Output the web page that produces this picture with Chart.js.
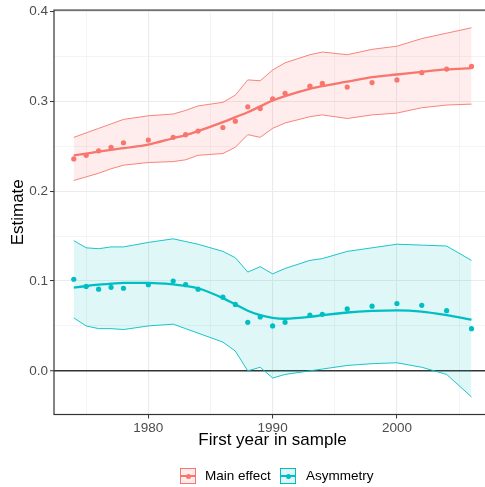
<!DOCTYPE html>
<html>
<head>
<meta charset="utf-8">
<script src="https://cdn.jsdelivr.net/npm/chart.js@4.4.1/dist/chart.umd.min.js"></script>
<style>
html, body { margin: 0; padding: 0; width: 485px; height: 487px; overflow: hidden; background: #fff; font-family: "Liberation Sans", Arial, sans-serif; }
#wrap { position: absolute; left: 0; top: 0; width: 500px; height: 487px; }
#legend { position: absolute; left: 0; top: 468px; width: 485px; height: 16px; font-size: 13.5px; color: #000; }
.key { position: absolute; top: 0; width: 14px; height: 14px; border: 1px solid; box-sizing: content-box; }
.key i { position: absolute; left: 0; right: 0; top: 6px; height: 2px; }
.key b { position: absolute; left: 4.5px; top: 4.5px; width: 5px; height: 5px; border-radius: 50%; }
.lab { position: absolute; top: 0; line-height: 16px; white-space: nowrap; }
</style>
</head>
<body>
<div id="wrap"><canvas id="chart"></canvas></div>
<div id="legend"></div>
<script>
const years = [1974, 1975, 1976, 1977, 1978, 1980, 1982, 1983, 1984, 1986, 1987, 1988, 1989, 1990, 1991, 1993, 1994, 1996, 1998, 2000, 2002, 2004, 2006];

const mainEst = [0.236, 0.240, 0.245, 0.249, 0.254, 0.257, 0.260, 0.263, 0.267, 0.271, 0.278, 0.294, 0.292, 0.303, 0.309, 0.317, 0.320, 0.316, 0.321, 0.324, 0.332, 0.336, 0.339];
const mainFit = [0.240, 0.242, 0.244, 0.246, 0.248, 0.252, 0.259, 0.2625, 0.267, 0.277, 0.2825, 0.288, 0.2945, 0.301, 0.306, 0.314, 0.317, 0.322, 0.327, 0.330, 0.333, 0.3356, 0.337];
const mainHi = [0.260, 0.265, 0.270, 0.275, 0.280, 0.284, 0.286, 0.290, 0.295, 0.299, 0.307, 0.324, 0.323, 0.335, 0.343, 0.352, 0.355, 0.352, 0.358, 0.3615, 0.370, 0.376, 0.382];
const mainLo = [0.212, 0.216, 0.220, 0.225, 0.229, 0.232, 0.233, 0.235, 0.240, 0.242, 0.249, 0.263, 0.260, 0.270, 0.276, 0.283, 0.285, 0.281, 0.285, 0.287, 0.293, 0.296, 0.297];

const asymEst = [0.102, 0.094, 0.091, 0.093, 0.092, 0.096, 0.100, 0.096, 0.091, 0.082, 0.074, 0.054, 0.060, 0.050, 0.054, 0.062, 0.063, 0.069, 0.072, 0.075, 0.073, 0.067, 0.047];
const asymFit = [0.0926, 0.0945, 0.096, 0.097, 0.098, 0.098, 0.0963, 0.0945, 0.092, 0.081, 0.074, 0.067, 0.062, 0.059, 0.058, 0.060, 0.062, 0.065, 0.0667, 0.0674, 0.066, 0.062, 0.057];
const asymHi = [0.145, 0.137, 0.136, 0.138, 0.138, 0.143, 0.147, 0.144, 0.141, 0.133, 0.126, 0.110, 0.116, 0.108, 0.114, 0.123, 0.125, 0.133, 0.137, 0.141, 0.140, 0.139, 0.123];
const asymLo = [0.059, 0.050, 0.047, 0.047, 0.046, 0.050, 0.052, 0.047, 0.042, 0.032, 0.022, 0.000, 0.004, -0.008, -0.004, 0.000, 0.002, 0.006, 0.008, 0.009, 0.004, -0.004, -0.029];

const xMajor = [1980, 1990, 2000];
const xMinor = [1975, 1985, 1995, 2005];
const yMajor = [0, 0.1, 0.2, 0.3, 0.4];
const yMinor = [0.05, 0.15, 0.25, 0.35];

const seriesNames = ['Main effect', 'Asymmetry'];
const red = '#F8766D', cyan = '#00BFC4';
const redFill = 'rgba(248,118,109,0.13)', cyanFill = 'rgba(0,191,196,0.12)';

const font = '"Liberation Sans", Arial, sans-serif';

function pts(ys) {
  return years.map((x, i) => ({ x: x, y: ys[i] }));
}

function band(ys, color, fill, next) {
  return { data: pts(ys), borderColor: color, borderWidth: 0.9, pointRadius: 0, tension: 0,
           fill: next ? '+1' : false, backgroundColor: fill };
}
function fit(ys, color) {
  return { data: pts(ys), borderColor: color, borderWidth: 2.3, pointRadius: 0,
           cubicInterpolationMode: 'monotone', fill: false };
}
function dots(ys, color) {
  return { data: pts(ys), showLine: false, pointRadius: 2.6, pointBorderWidth: 0,
           pointBackgroundColor: color, borderColor: color };
}

const panelBorder = {
  id: 'panelBorder',
  afterDraw(chart) {
    const { ctx, chartArea: a } = chart;
    ctx.save();
    ctx.strokeStyle = '#333';
    ctx.lineWidth = 1.2;
    ctx.strokeRect(a.left, a.top, a.right - a.left, a.bottom - a.top);
    ctx.restore();
  }
};

new Chart(document.getElementById('chart'), {
  type: 'line',
  data: {
    datasets: [
      dots(mainEst, red),
      dots(asymEst, cyan),
      fit(mainFit, red),
      fit(asymFit, cyan),
      band(mainHi, red, redFill, true),
      band(mainLo, red, redFill, false),
      band(asymHi, cyan, cyanFill, true),
      band(asymLo, cyan, cyanFill, false)
    ]
  },
  options: {
    responsive: true,
    maintainAspectRatio: false,
    animation: false,
    layout: { padding: { left: 0, right: 9, top: 9.5, bottom: 36.8 } },
    plugins: { legend: { display: false }, tooltip: { enabled: false } },
    scales: {
      x: {
        type: 'linear', min: 1972.41, max: 2007.57,
        afterBuildTicks: s => { s.ticks = xMajor.concat(xMinor).sort((a, b) => a - b).map(v => ({ value: v })); },
        afterFit: s => { s.height = 35.7; },
        border: { display: false },
        grid: {
          color: '#ebebeb',
          lineWidth: c => xMajor.includes(c.tick.value) ? 1.1 : 0.55,
          tickColor: c => xMajor.includes(c.tick.value) ? '#333' : 'rgba(0,0,0,0)',
          tickLength: 4, tickWidth: 1
        },
        ticks: {
          autoSkip: false, maxRotation: 0, padding: 2, color: '#4d4d4d',
          font: { family: font, size: 13.5 },
          callback: v => xMajor.includes(v) ? String(v) : ''
        },
        title: { display: true, text: 'First year in sample', color: '#000',
                 font: { family: font, size: 17 }, padding: { top: 0, bottom: 0 } }
      },
      y: {
        type: 'linear', min: -0.0486, max: 0.4017,
        afterBuildTicks: s => { s.ticks = yMajor.concat(yMinor).sort((a, b) => a - b).map(v => ({ value: v })); },
        afterFit: s => { s.width = 54; },
        border: { display: false },
        grid: {
          color: c => c.tick.value === 0 ? '#333' : '#ebebeb',
          lineWidth: c => c.tick.value === 0 ? 1.5 : (yMajor.includes(c.tick.value) ? 1.1 : 0.55),
          tickColor: c => yMajor.includes(c.tick.value) ? '#333' : 'rgba(0,0,0,0)',
          tickLength: 4, tickWidth: 1
        },
        ticks: {
          autoSkip: false, padding: 2, color: '#4d4d4d',
          font: { family: font, size: 13.5 },
          callback: v => yMajor.includes(v) ? v.toFixed(1) : ''
        },
        title: { display: true, text: 'Estimate', color: '#000',
                 font: { family: font, size: 17 }, padding: { top: 8, bottom: 0 } }
      }
    }
  },
  plugins: [panelBorder]
});

// legend below the panel, ggplot style keys
const legend = document.getElementById('legend');
const keyLeft = [180, 280];
const labLeft = [205, 306];
[[red, redFill], [cyan, cyanFill]].forEach(([c, f], i) => {
  const k = document.createElement('div');
  k.className = 'key';
  k.style.left = keyLeft[i] + 'px';
  k.style.borderColor = c;
  k.style.background = f;
  k.innerHTML = '<i style="background:' + c + '"></i><b style="background:' + c + '"></b>';
  legend.appendChild(k);
  const t = document.createElement('div');
  t.className = 'lab';
  t.style.left = labLeft[i] + 'px';
  t.textContent = seriesNames[i];
  legend.appendChild(t);
});
</script>
</body>
</html>
